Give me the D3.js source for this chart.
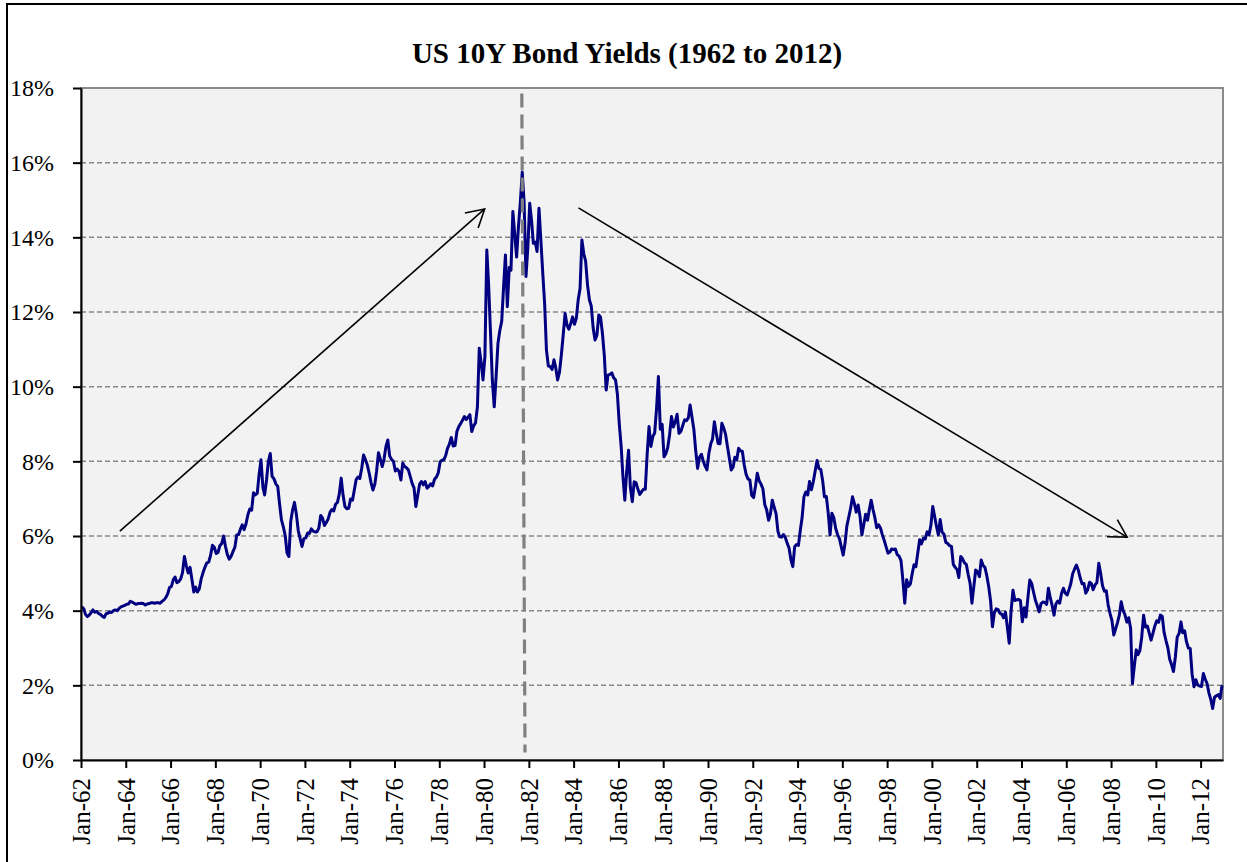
<!DOCTYPE html>
<html>
<head>
<meta charset="utf-8">
<title>US 10Y Bond Yields (1962 to 2012)</title>
<script src="https://cdn.jsdelivr.net/npm/d3@7"></script>
<style>
  body { margin: 0; background: #fff; }
  svg { display: block; font-family: "Liberation Serif", "Times New Roman", serif; }
</style>
</head>
<body>
<div id="chart"></div>
<script>
// monthly 10Y yields in % (Jan of first year .. Dec)
var yields1962to1971 = [
  4.10, 4.05, 3.90, 3.84, 3.88, 3.95, 4.02, 3.96, 3.98, 3.92, 3.90, 3.85,
  3.82, 3.92, 3.93, 3.97, 3.95, 4.00, 4.02, 4.00, 4.06, 4.10, 4.12, 4.14,
  4.17, 4.18, 4.25, 4.23, 4.20, 4.17, 4.19, 4.19, 4.20, 4.19, 4.15, 4.18,
  4.19, 4.21, 4.21, 4.20, 4.21, 4.21, 4.20, 4.25, 4.29, 4.35, 4.45, 4.62,
  4.65, 4.83, 4.90, 4.75, 4.78, 4.85, 5.02, 5.45, 5.20, 5.01, 5.16, 4.84,
  4.50, 4.63, 4.50, 4.59, 4.85, 5.02, 5.16, 5.28, 5.30, 5.48, 5.75, 5.70,
  5.53, 5.56, 5.74, 5.80, 6.00, 5.72, 5.50, 5.38, 5.46, 5.58, 5.70, 6.03,
  6.04, 6.19, 6.30, 6.17, 6.32, 6.57, 6.72, 6.69, 7.16, 7.10, 7.14, 7.65,
  8.04, 7.30, 7.10, 7.50, 8.00, 8.21, 7.60, 7.53, 7.39, 7.33, 6.84, 6.43,
  6.24, 6.00, 5.55, 5.45, 6.39, 6.70, 6.90, 6.58, 6.14, 5.93, 5.72, 5.93
];
var yields1972to1981 = [
  5.95, 6.08, 6.07, 6.19, 6.13, 6.11, 6.11, 6.21, 6.55, 6.48, 6.28, 6.36,
  6.46, 6.64, 6.71, 6.67, 6.85, 6.90, 7.13, 7.55, 7.09, 6.79, 6.73, 6.74,
  6.99, 6.96, 7.21, 7.51, 7.58, 7.54, 7.81, 8.17, 8.04, 7.90, 7.68, 7.43,
  7.23, 7.39, 7.73, 8.23, 8.06, 7.86, 8.06, 8.40, 8.57, 8.14, 8.05, 8.00,
  7.74, 7.79, 7.73, 7.50, 7.95, 7.86, 7.83, 7.77, 7.59, 7.41, 7.29, 6.79,
  7.10, 7.39, 7.46, 7.37, 7.46, 7.28, 7.33, 7.40, 7.34, 7.52, 7.58, 7.69,
  7.99, 8.03, 8.04, 8.15, 8.35, 8.46, 8.64, 8.41, 8.42, 8.80, 8.93, 9.01,
  9.10, 9.20, 9.12, 9.18, 9.25, 8.80, 8.95, 9.03, 9.46, 11.03, 10.65, 10.18,
  10.80, 13.66, 12.75, 11.47, 10.18, 9.46, 10.25, 11.16, 11.51, 11.75, 12.68, 13.53,
  12.14, 13.19, 13.12, 14.69, 14.10, 13.47, 14.28, 14.94, 15.75, 14.95, 12.95, 13.72
];
var yields1982to1991 = [
  14.91, 14.43, 13.84, 13.87, 13.62, 14.78, 13.95, 13.06, 12.23, 10.98, 10.55, 10.54,
  10.46, 10.72, 10.51, 10.18, 10.38, 10.85, 11.38, 11.96, 11.65, 11.54, 11.69, 11.87,
  11.67, 11.84, 12.32, 12.63, 13.93, 13.56, 13.36, 12.72, 12.32, 12.16, 11.57, 11.25,
  11.38, 11.92, 11.86, 11.43, 10.85, 9.91, 10.31, 10.33, 10.37, 10.24, 10.18, 9.80,
  9.00, 8.39, 7.60, 6.96, 7.71, 8.30, 7.30, 6.92, 7.45, 7.43, 7.25, 7.11,
  7.19, 7.25, 7.25, 8.20, 8.93, 8.40, 8.66, 8.76, 9.42, 10.27, 8.86, 8.99,
  8.12, 8.21, 8.37, 8.72, 9.20, 8.92, 9.06, 9.26, 8.75, 8.80, 8.96, 9.11,
  9.09, 9.17, 9.51, 9.18, 8.86, 8.28, 7.81, 8.11, 8.19, 8.01, 7.87, 7.77,
  8.21, 8.47, 8.59, 9.06, 8.76, 8.48, 8.47, 9.02, 8.89, 8.72, 8.39, 8.08,
  7.77, 7.85, 8.11, 8.04, 8.35, 8.28, 8.27, 7.90, 7.65, 7.53, 7.50, 7.09
];
var yields1992to2001 = [
  7.03, 7.34, 7.68, 7.48, 7.39, 7.26, 6.84, 6.70, 6.42, 6.59, 6.96, 6.77,
  6.60, 6.12, 5.98, 5.97, 6.04, 5.96, 5.81, 5.68, 5.36, 5.18, 5.72, 5.77,
  5.75, 6.16, 6.48, 7.05, 7.18, 7.10, 7.46, 7.24, 7.46, 7.74, 8.02, 7.81,
  7.78, 7.47, 7.05, 7.06, 6.63, 6.03, 6.61, 6.49, 6.20, 6.04, 5.93, 5.71,
  5.49, 5.81, 6.27, 6.51, 6.74, 7.05, 6.87, 6.64, 6.83, 6.53, 6.03, 6.30,
  6.58, 6.42, 6.69, 6.96, 6.71, 6.49, 6.22, 6.30, 6.21, 6.03, 5.88, 5.71,
  5.54, 5.57, 5.65, 5.64, 5.65, 5.50, 5.46, 5.34, 4.81, 4.20, 4.83, 4.65,
  4.72, 5.00, 5.23, 5.18, 5.54, 5.90, 5.79, 5.94, 5.92, 6.11, 6.03, 6.28,
  6.79, 6.52, 6.26, 6.03, 6.44, 6.10, 6.05, 5.83, 5.80, 5.74, 5.72, 5.24,
  5.16, 5.10, 4.89, 5.45, 5.39, 5.28, 5.24, 4.97, 4.73, 4.20, 4.65, 5.09
];
var yields2002to2012 = [
  5.04, 4.91, 5.36, 5.21, 5.16, 4.93, 4.65, 4.26, 3.57, 3.94, 4.05, 4.03,
  3.93, 3.90, 3.81, 3.96, 3.57, 3.13, 3.98, 4.55, 4.27, 4.29, 4.30, 4.27,
  3.70, 4.08, 3.83, 4.35, 4.82, 4.73, 4.50, 4.28, 4.13, 3.97, 4.19, 4.23,
  4.22, 4.17, 4.60, 4.34, 4.14, 3.88, 4.18, 4.26, 4.20, 4.46, 4.60, 4.47,
  4.42, 4.57, 4.72, 4.99, 5.11, 5.22, 5.09, 4.88, 4.72, 4.73, 4.47, 4.56,
  4.76, 4.72, 4.56, 4.69, 4.75, 5.27, 5.00, 4.67, 4.52, 4.53, 4.15, 3.93,
  3.74, 3.35, 3.51, 3.68, 3.88, 4.24, 4.01, 3.89, 3.69, 3.81, 3.53, 2.05,
  2.52, 2.95, 2.82, 2.93, 3.29, 3.88, 3.56, 3.59, 3.40, 3.21, 3.40, 3.59,
  3.73, 3.69, 3.88, 3.85, 3.42, 3.20, 3.01, 2.70, 2.55, 2.37, 2.76, 3.29,
  3.39, 3.70, 3.41, 3.46, 3.17, 3.00, 2.99, 2.30, 1.96, 2.15, 2.01, 1.98,
  1.97, 2.32, 2.17, 2.05, 1.80, 1.62, 1.38, 1.68, 1.72, 1.75, 1.65, 2.00
];
var startYear = 1962;

var tickYears = [1962, 1964, 1966, 1968, 1970, 1972, 1974, 1976, 1978, 1980, 1982, 1984, 1986,
  1988, 1990, 1992, 1994, 1996, 1998, 2000, 2002, 2004, 2006, 2008, 2010, 2012];
var yTicks = [0, 2, 4, 6, 8, 10, 12, 14, 16, 18];

// annotations: peak marker and the two trend arrows
var peakLine = [{ date: "1981-09-08", value: 17.85 }, { date: "1981-10-30", value: 0.2 }];
var upArrow = [{ date: "1963-09-27", value: 6.13 }, { date: "1980-01-11", value: 14.76 }];
var downArrow = [{ date: "1984-03-20", value: 14.79 }, { date: "2008-09-20", value: 5.97 }];

var width = 1247, height = 862;
var plot = { left: 81, right: 1223, top: 88, bottom: 760 };

var yields = [].concat(yields1962to1971, yields1972to1981, yields1982to1991,
  yields1992to2001, yields2002to2012);
var series = yields.map(function (v, i) {
  return { date: new Date(startYear, i, 15), value: v };
});

var parse = d3.timeParse("%Y-%m-%d");

var x = d3.scaleTime()
  .domain([new Date(1962, 0, 1), new Date(2012, 11, 31)])
  .range([plot.left, plot.right]);
var y = d3.scaleLinear().domain([0, 18]).range([plot.bottom, plot.top]);

var svg = d3.select("#chart")
  .append("svg")
  .attr("width", width)
  .attr("height", height);

// outer chart border
svg.append("rect")
  .attr("x", 7).attr("y", 4)
  .attr("width", width + 10).attr("height", height + 10)
  .attr("fill", "#fff")
  .attr("stroke", "#000")
  .attr("stroke-width", 2);

svg.append("text")
  .attr("x", 627)
  .attr("y", 63)
  .attr("text-anchor", "middle")
  .style("font-size", "29px")
  .style("font-weight", "bold")
  .text("US 10Y Bond Yields (1962 to 2012)");

// plot area
svg.append("rect")
  .attr("x", plot.left).attr("y", plot.top)
  .attr("width", plot.right - plot.left)
  .attr("height", plot.bottom - plot.top)
  .attr("fill", "#f2f2f2")
  .attr("stroke", "#8c8c8c")
  .attr("stroke-width", 2);

svg.append("g")
  .selectAll("line")
  .data(yTicks.filter(function (d) { return d > 0; }))
  .enter()
  .append("line")
  .attr("x1", plot.left).attr("x2", plot.right)
  .attr("y1", function (d) { return y(d); })
  .attr("y2", function (d) { return y(d); })
  .attr("stroke", "#868686")
  .attr("stroke-width", 1.5)
  .style("stroke-dasharray", "5, 3");

var line = d3.line()
  .x(function (d) { return x(d.date); })
  .y(function (d) { return y(d.value); });

svg.append("path")
  .datum(series)
  .attr("d", line)
  .attr("fill", "none")
  .attr("stroke", "#000080")
  .attr("stroke-width", 3)
  .attr("stroke-linejoin", "round");

// vertical dashed marker at the 1981 peak
svg.append("line")
  .attr("x1", x(parse(peakLine[0].date))).attr("y1", y(peakLine[0].value))
  .attr("x2", x(parse(peakLine[1].date))).attr("y2", y(peakLine[1].value))
  .attr("stroke", "#808080")
  .attr("stroke-width", 3.2)
  .style("stroke-dasharray", "14, 7");

svg.append("defs")
  .append("marker")
  .attr("id", "arrowhead")
  .attr("markerUnits", "userSpaceOnUse")
  .attr("viewBox", "-22 -14 26 28")
  .attr("refX", 0).attr("refY", 0)
  .attr("markerWidth", 26).attr("markerHeight", 28)
  .attr("orient", "auto")
  .append("path")
  .attr("d", "M-17.5,-10L0,0L-17.5,10")
  .attr("fill", "none")
  .attr("stroke", "#000")
  .attr("stroke-width", 1.6);

[upArrow, downArrow].forEach(function (a) {
  svg.append("line")
    .attr("x1", x(parse(a[0].date))).attr("y1", y(a[0].value))
    .attr("x2", x(parse(a[1].date))).attr("y2", y(a[1].value))
    .attr("stroke", "#000")
    .attr("stroke-width", 1.6)
    .attr("marker-end", "url(#arrowhead)");
});

// axes
var xAxis = svg.append("g")
  .attr("transform", "translate(0," + plot.bottom + ")")
  .call(d3.axisBottom(x)
    .tickValues(tickYears.map(function (yr) { return new Date(yr, 0, 1); }))
    .tickFormat(d3.timeFormat("%b-%y"))
    .tickSize(8)
    .tickSizeOuter(0));
xAxis.select(".domain").attr("stroke", "#000").attr("stroke-width", 2);
xAxis.selectAll(".tick line").attr("stroke", "#000").attr("stroke-width", 2);
xAxis.selectAll("text")
  .attr("transform", "rotate(-90)")
  .attr("x", -18)
  .attr("y", 0)
  .attr("dy", "0.33em")
  .attr("text-anchor", "end")
  .attr("fill", "#000")
  .style("font-size", "25px")
  .style("font-family", "'Liberation Serif', 'Times New Roman', serif");

var yAxis = svg.append("g")
  .attr("transform", "translate(" + plot.left + ",0)")
  .call(d3.axisLeft(y)
    .tickValues(yTicks)
    .tickFormat(function (d) { return d + "%"; })
    .tickSize(8)
    .tickSizeOuter(0));
yAxis.select(".domain").attr("stroke", "#000").attr("stroke-width", 2);
yAxis.selectAll(".tick line").attr("stroke", "#000").attr("stroke-width", 2);
yAxis.selectAll("text")
  .attr("x", -27)
  .attr("dy", "0.33em")
  .attr("fill", "#000")
  .style("font-size", "24px")
  .style("font-family", "'Liberation Serif', 'Times New Roman', serif");
</script>
</body>
</html>
